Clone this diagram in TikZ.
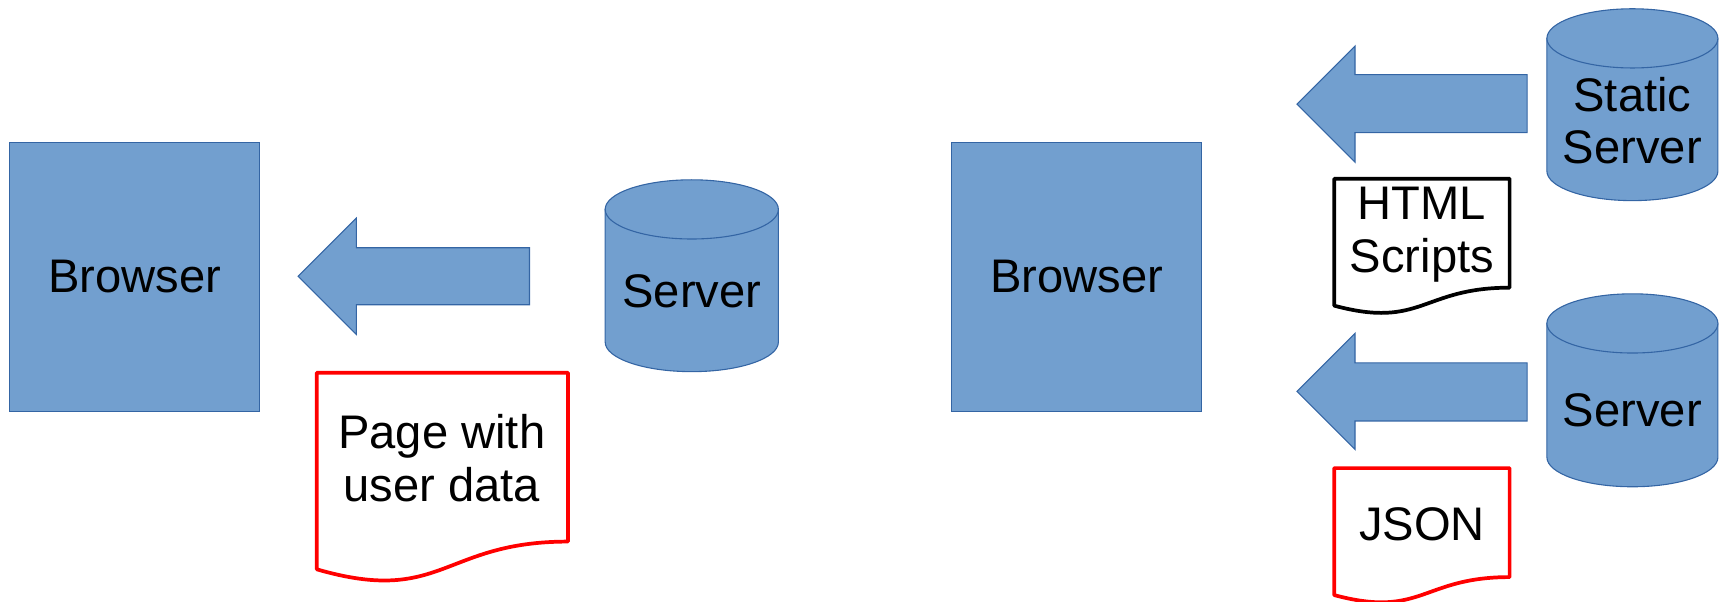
\documentclass[tikz,border=0pt]{standalone}
\usepackage{fontspec}
\setmainfont{Liberation Sans}
\definecolor{bfill}{HTML}{729FCF}
\definecolor{bline}{HTML}{3465A4}
\tikzset{
  blueshape/.style={fill=bfill, draw=bline, line width=1pt},
  reddoc/.style={draw=red, fill=white, line width=3.4pt, line join=round},
  blackdoc/.style={draw=black, fill=white, line width=3.4pt, line join=round},
  lbl/.style={font=\fontsize{43}{48}\selectfont, align=center, text=black, inner sep=0pt},
}
\begin{document}
\begin{tikzpicture}[x=1pt,y=-1pt]
\useasboundingbox (0,0) rectangle (1568,549);
% browsers
\node[blueshape, minimum width=228pt, minimum height=245pt, lbl, inner sep=0pt] (b1) at (123,252.5) {Browser};
\node[blueshape, minimum width=228pt, minimum height=245pt, lbl, inner sep=0pt] (b2) at (982,252.5) {Browser};
% block arrows
\path[blueshape] (483,226) -- (325,226) -- (325,199) -- (272,252) -- (325,305) -- (325,278) -- (483,278) -- cycle;
\path[blueshape] (1393,68) -- (1236,68) -- (1236,42) -- (1183,95) -- (1236,148) -- (1236,121) -- (1393,121) -- cycle;
\path[blueshape] (1393,331) -- (1236,331) -- (1236,304) -- (1183,357) -- (1236,410) -- (1236,384) -- (1393,384) -- cycle;
% cylinders
\path[blueshape] (552,191) -- (552,312) arc[start angle=180, end angle=0, x radius=79, y radius=27] -- (710,191) -- cycle;
\path[blueshape] (631,191) ellipse[x radius=79, y radius=27];
\node[lbl] (s1) at (631,266) {Server};
\path[blueshape] (1411,35) -- (1411,156) arc[start angle=180, end angle=0, x radius=78, y radius=27] -- (1567,35) -- cycle;
\path[blueshape] (1489,35) ellipse[x radius=78, y radius=27];
\node[lbl] (s2) at (1489,110) {Static\\Server};
\path[blueshape] (1411,295) -- (1411,417) arc[start angle=180, end angle=0, x radius=78, y radius=27] -- (1567,295) -- cycle;
\path[blueshape] (1489,295) ellipse[x radius=78, y radius=27];
\node[lbl] (s3) at (1489,374) {Server};
% documents
\path[reddoc] (289,340) -- (518,340) -- (518,494) .. controls (403.5,494) and (403.5,552.5) .. (289,519.3) -- cycle;
\node[lbl] (d1) at (403,418) {Page with\\user data};
\path[blackdoc] (1217,163) -- (1377,163) -- (1377,262.4) .. controls (1297,262.4) and (1297,300.3) .. (1217,278.8) -- cycle;
\node[lbl] (d2) at (1297,214) {HTML\\Scripts};
\path[reddoc] (1217,427) -- (1377,427) -- (1377,526.4) .. controls (1297,526.4) and (1297,564.3) .. (1217,542.8) -- cycle;
\node[lbl] (d3) at (1297,478) {JSON};
\end{tikzpicture}
\end{document}
